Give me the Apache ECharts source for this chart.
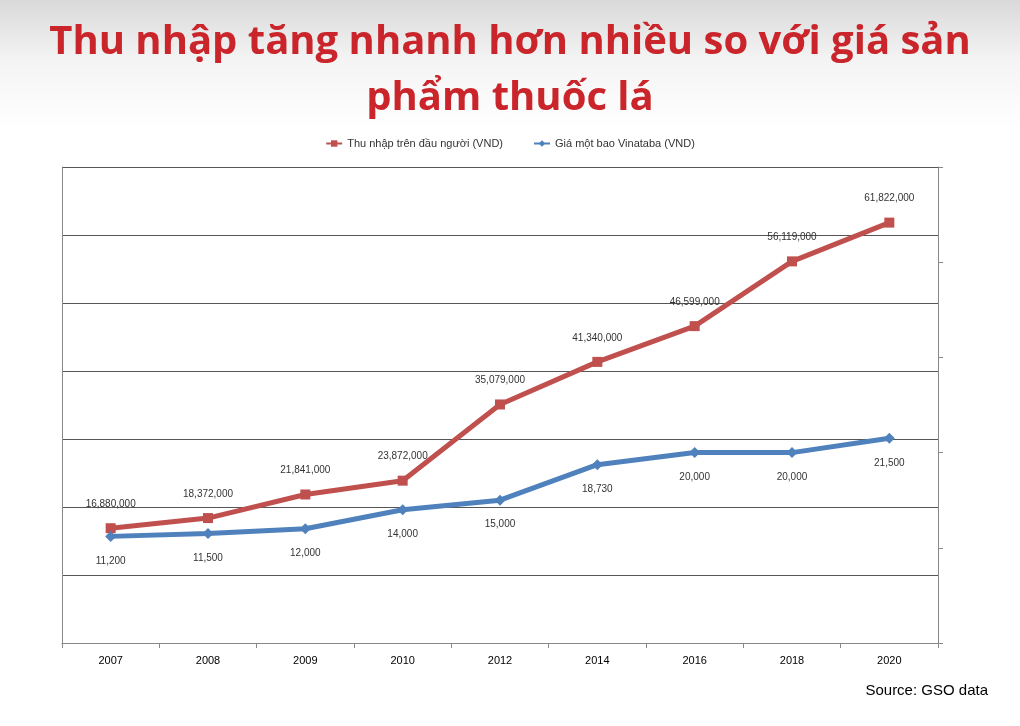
<!DOCTYPE html>
<html><head><meta charset="utf-8">
<script src="https://cdn.jsdelivr.net/npm/echarts@6/dist/echarts.min.js"></script>
<style>html,body{margin:0;padding:0;}#c{width:1020px;height:726px;background:linear-gradient(#d9d9d9 0px,#f4f4f4 60px,#ffffff 130px);}</style>
</head><body><div id="c"></div>
<script>
const categories=['2007','2008','2009','2010','2012','2014','2016','2018','2020'];
const income=[16880000,18372000,21841000,23872000,35079000,41340000,46599000,56119000,61822000];
const price=[11200,11500,12000,14000,15000,18730,20000,20000,21500];
const fmt=v=>v.toLocaleString('en-US');
const chart=echarts.init(document.getElementById('c'));
chart.setOption({
 animation:false,
 title:{text:'Thu nhập tăng nhanh hơn nhiều so với giá sản\nphẩm thuốc lá',left:'center',top:10,
  textStyle:{color:'#c9252b',fontSize:40,fontWeight:'bold',fontFamily:'Open Sans',lineHeight:56}},
 legend:{top:133,left:'center',itemWidth:16,itemHeight:8,itemGap:30,textStyle:{fontSize:11,color:'#333',fontFamily:'Arial'}},
 grid:{left:62,right:82,top:167,bottom:83},
 graphic:[{type:'text',right:32,bottom:28,style:{text:'Source: GSO data',fontSize:15,fill:'#000',fontFamily:'Liberation Sans'}}],
 xAxis:{type:'category',data:categories,boundaryGap:true,
  axisLine:{lineStyle:{color:'#888'}},axisTick:{show:true,length:5,lineStyle:{color:'#888'}},
  axisLabel:{color:'#000',fontSize:11,margin:12}},
 yAxis:[{type:'value',min:0,max:70000000,interval:10000000,axisLabel:{show:false},
   axisLine:{show:true,lineStyle:{color:'#888'}},axisTick:{show:false},
   splitLine:{lineStyle:{color:'#555',width:1}}},
  {type:'value',min:0,max:50000,interval:10000,position:'right',axisLabel:{show:false},
   axisLine:{show:true,lineStyle:{color:'#888'}},axisTick:{show:true,length:5,lineStyle:{color:'#888'}},
   splitLine:{show:false}}],
 series:[{name:'Thu nhập trên đầu người (VND)',type:'line',data:income,yAxisIndex:0,
   symbol:'rect',symbolSize:10,lineStyle:{width:5,color:'#c0504d'},itemStyle:{color:'#c0504d'},
   label:{show:true,position:'top',distance:14,fontSize:10,color:'#333',formatter:p=>fmt(p.value)}},
  {name:'Giá một bao Vinataba (VND)',type:'line',data:price,yAxisIndex:1,
   symbol:'diamond',symbolSize:11,lineStyle:{width:5,color:'#4f81bd'},itemStyle:{color:'#4f81bd'},
   label:{show:true,position:'bottom',distance:14,fontSize:10,color:'#333',formatter:p=>fmt(p.value)}}]
});
</script></body></html>
